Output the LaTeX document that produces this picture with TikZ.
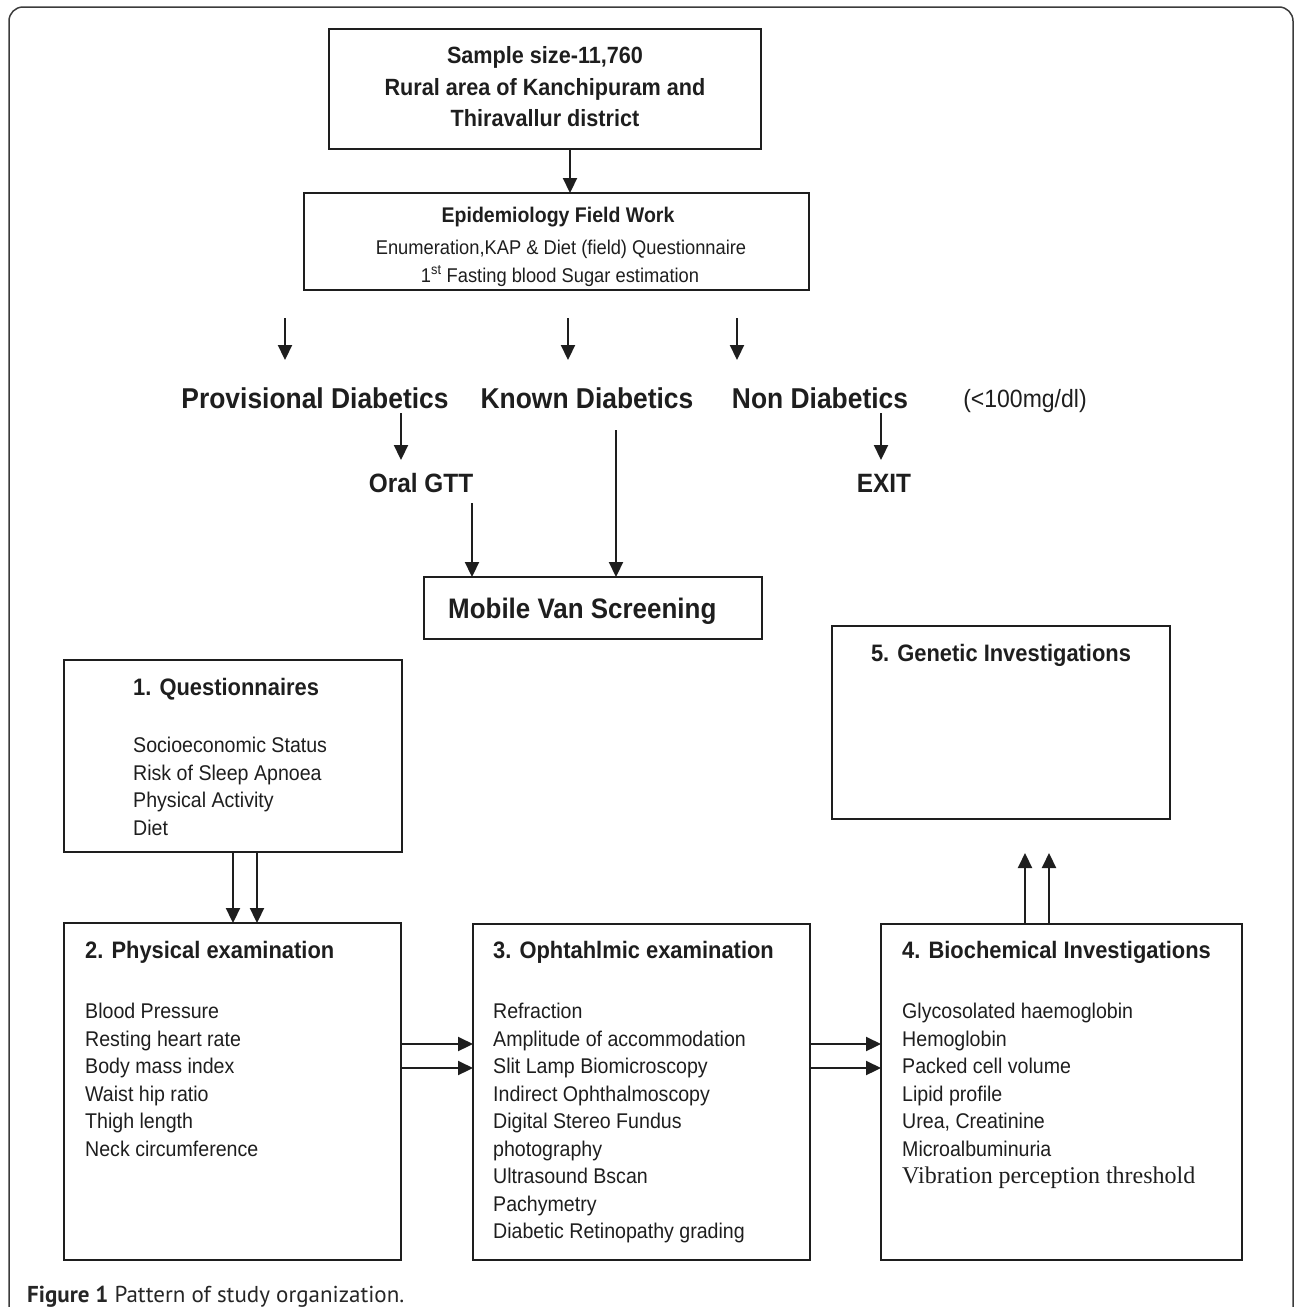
\documentclass[tikz,border=0pt]{standalone}
\usepackage{fontspec}
\setmainfont{Liberation Sans}[FakeStretch=0.92]
\newfontfamily\timesf{Liberation Serif}
\newfontfamily\capf{PT Sans}
\usetikzlibrary{arrows.meta}
\definecolor{ink}{RGB}{30,30,30}
\definecolor{framec}{RGB}{60,60,60}
\begin{document}
\begin{tikzpicture}[x=1pt,y=-1pt,
  box/.style={draw=ink, line width=1.9pt, rectangle, inner sep=0pt, outer sep=0pt},
  arr/.style={draw=ink, line width=2.2pt, -{Triangle[length=15pt,width=14pt]}},
  every node/.style={text=ink},
  item/.style={anchor=base west, inner sep=0pt, font=\fontsize{21.3}{25}\selectfont},
  ttl/.style={anchor=base west, inner sep=0pt, font=\bfseries\fontsize{23.8}{28}\selectfont},
  big/.style={anchor=base, inner sep=0pt, font=\bfseries\fontsize{28.7}{32}\selectfont},
  mid/.style={anchor=base, inner sep=0pt, font=\bfseries\fontsize{26.5}{30}\selectfont},
]
\useasboundingbox (0,0) rectangle (1295,1307);
% outer frame
\draw[framec, line width=1.5pt, rounded corners=14pt] (9,1330) -- (9,7) -- (1293,7) -- (1293,1330);

% boxes
\node[box, minimum width=432pt, minimum height=120pt] (top) at (545,89) {};
\node[box, minimum width=505pt, minimum height=97pt] (epi) at (556.5,241.5) {};
\node[box, minimum width=338pt, minimum height=62pt] (mob) at (593,608) {};
\node[box, minimum width=338pt, minimum height=192pt] (q) at (233,756) {};
\node[box, minimum width=337pt, minimum height=337pt] (pe) at (232.5,1091.5) {};
\node[box, minimum width=337pt, minimum height=336pt] (oe) at (641.5,1092) {};
\node[box, minimum width=361pt, minimum height=336pt] (bi) at (1061.5,1092) {};
\node[box, minimum width=338pt, minimum height=193pt] (gi) at (1001,722.5) {};

% top box text
\begin{scope}[every node/.append style={anchor=base, inner sep=0pt, font=\bfseries\fontsize{23.5}{28}\selectfont}]
\node (t1) at (545,63) {Sample size-11,760};
\node (t2) at (545,95) {Rural area of Kanchipuram and};
\node (t3) at (545,126) {Thiravallur district};
\end{scope}

% epidemiology text
\node[anchor=base, inner sep=0pt, font=\bfseries\fontsize{21.2}{25}\selectfont] (e1) at (558,222) {Epidemiology Field Work};
\node[anchor=base, inner sep=0pt, font=\fontsize{19.9}{24}\selectfont] (e2) at (561,254) {Enumeration,KAP \& Diet (field) Questionnaire};
\node[anchor=base, inner sep=0pt, font=\fontsize{19.9}{24}\selectfont] (e3) at (560,282) {1\textsuperscript{st} Fasting blood Sugar estimation};

% category labels
\node[big] (prov) at (315,408) {Provisional Diabetics};
\node[big] (known) at (587,408) {Known Diabetics};
\node[big] (non) at (820,408) {Non Diabetics};
\node[anchor=base, inner sep=0pt, font=\fontsize{25}{28}\selectfont] (lim) at (1025,407) {(<100mg/dl)};
\node[mid] (ogtt) at (421,492) {Oral GTT};
\node[mid] (exit) at (884,492) {EXIT};

% mobile van
\node[anchor=base west, inner sep=0pt, font=\bfseries\fontsize{28.2}{32}\selectfont] (mvt) at (448,618) {Mobile Van Screening};

% 1. Questionnaires
\node[ttl] (qt) at (133,695.5) {1. Questionnaires};
\foreach \t [count=\i] in {Socioeconomic Status, Risk of Sleep Apnoea, Physical Activity, Diet}
  \node[item] (qi\i) at (133,{752.5+(\i-1)*27.5}) {\t};

% 2. Physical examination
\node[ttl] (pet) at (85,958.5) {2. Physical examination};
\foreach \t [count=\i] in {Blood Pressure, Resting heart rate, Body mass index, Waist hip ratio, Thigh length, Neck circumference}
  \node[item] (pei\i) at (85,{1018.5+(\i-1)*27.5}) {\t};

% 3. Ophthalmic examination
\node[ttl] (oet) at (493,958.5) {3. Ophtahlmic examination};
\foreach \t [count=\i] in {Refraction, Amplitude of accommodation, Slit Lamp Biomicroscopy, Indirect Ophthalmoscopy, Digital Stereo Fundus, photography, Ultrasound Bscan, Pachymetry, Diabetic Retinopathy grading}
  \node[item] (oei\i) at (493,{1018.5+(\i-1)*27.5}) {\t};

% 4. Biochemical
\node[ttl] (bit) at (902,958.5) {4. Biochemical Investigations};
\foreach \t [count=\i] in {Glycosolated haemoglobin, Hemoglobin, Packed cell volume, Lipid profile, {Urea, Creatinine}, Microalbuminuria}
  \node[item] (bii\i) at (902,{1018.5+(\i-1)*27.5}) {\t};
\node[anchor=base west, inner sep=0pt, font=\timesf\fontsize{24}{28}\selectfont] (bii7) at (902,1183.5) {Vibration perception threshold};

% 5. Genetic
\node[anchor=base, inner sep=0pt, font=\bfseries\fontsize{23.8}{28}\selectfont] (git) at (1001,661.5) {5. Genetic Investigations};

% caption
\node[anchor=base west, inner sep=0pt, font=\capf\fontsize{23}{26}\selectfont, text=black!85] (cap) at (27,1302) {\textbf{Figure 1} Pattern of study organization.};

% free arrow end points
\coordinate (a1s) at (285,318); \coordinate (a1e) at (285,360);
\coordinate (a2s) at (568,318); \coordinate (a2e) at (568,360);
\coordinate (a3s) at (737,318); \coordinate (a3e) at (737,360);
\coordinate (p1s) at (401,413); \coordinate (p1e) at (401,460);
\coordinate (n1s) at (881,413); \coordinate (n1e) at (881,460);
\coordinate (k1s) at (616,430);
\coordinate (o1s) at (472,503);
\coordinate (u1e) at (1025,853);
\coordinate (u2e) at (1049,853);

% connectors
\draw[arr] (570,0 |- top.south) -- (570,0 |- epi.north);
\draw[arr] (a1s) -- (a1e);
\draw[arr] (a2s) -- (a2e);
\draw[arr] (a3s) -- (a3e);
\draw[arr] (p1s) -- (p1e);
\draw[arr] (n1s) -- (n1e);
\draw[arr] (k1s) -- (k1s |- mob.north);
\draw[arr] (o1s) -- (o1s |- mob.north);
\draw[arr] (233,0 |- q.south) -- (233,0 |- pe.north);
\draw[arr] (257,0 |- q.south) -- (257,0 |- pe.north);
\draw[arr] (pe.east |- 0,1044) -- (oe.west |- 0,1044);
\draw[arr] (pe.east |- 0,1068) -- (oe.west |- 0,1068);
\draw[arr] (oe.east |- 0,1044) -- (bi.west |- 0,1044);
\draw[arr] (oe.east |- 0,1068) -- (bi.west |- 0,1068);
\draw[arr] (u1e |- bi.north) -- (u1e);
\draw[arr] (u2e |- bi.north) -- (u2e);
\end{tikzpicture}
\end{document}
